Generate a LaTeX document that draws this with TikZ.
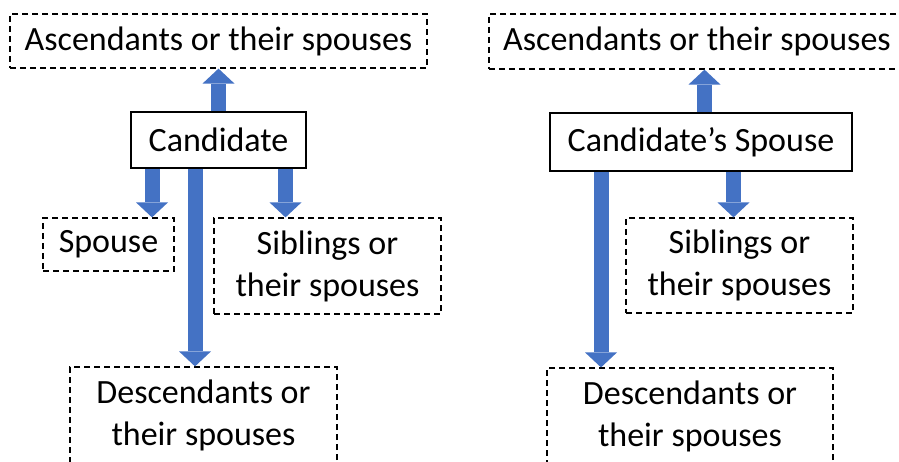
\documentclass[tikz,border=0pt]{standalone}
\usepackage{fontspec}
\setmainfont{Carlito}
\usetikzlibrary{calc,arrows.meta}
\definecolor{arrowblue}{HTML}{4472C4}
\tikzset{
  dbox/.style={draw,dash pattern=on 6pt off 4pt,line width=1.2pt,inner sep=0pt,align=center,
    font=\fontsize{34}{42}\selectfont},
  sbox/.style={draw,line width=2.2pt,inner sep=0pt,align=center,font=\fontsize{34}{42}\selectfont},
  blk/.style={draw=arrowblue,line width=15pt,-{Triangle[length=15pt,width=32pt,line width=0pt]}}
}

\begin{document}
\begin{tikzpicture}[x=1pt,y=-1pt]
\useasboundingbox (0,0) rectangle (899,462);
% candidate
\node[sbox,minimum width=175pt,minimum height=56pt] (cand) at (218.5,140) {Candidate};
\node[dbox,minimum width=417pt,minimum height=54pt] (asc) at (218.5,41) {Ascendants or their spouses};
\node[dbox,minimum width=131pt,minimum height=53pt] (sp) at (108.5,244.5) {Spouse};
\node[dbox,minimum width=227pt,minimum height=96pt] (sib) at (327.5,266) {Siblings or\\their spouses};
\node[dbox,minimum width=267pt,minimum height=96pt] (desc) at (203.5,415) {Descendants or\\their spouses};
\coordinate (c1) at ($(cand.south)+(-66.5,0)$);
\coordinate (c2) at ($(cand.south)+(-23.5,0)$);
\coordinate (c3) at ($(cand.south)+(67,0)$);
\draw[blk] (cand.north) -- (asc.south);
\draw[blk] (c1) -- (c1 |- sp.north);
\draw[blk] (c2) -- (c2 |- desc.north);
\draw[blk] (c3) -- (c3 |- sib.north);
% candidate's spouse
\node[sbox,minimum width=302pt,minimum height=58pt] (scand) at (701,142) {Candidate’s Spouse};
\node[dbox,minimum width=416pt,minimum height=55pt] (sasc) at (697,41.5) {Ascendants or their spouses};
\node[dbox,minimum width=227pt,minimum height=95pt] (ssib) at (739.5,265.5) {Siblings or\\their spouses};
\node[dbox,minimum width=286pt,minimum height=96pt] (sdesc) at (690,416) {Descendants or\\their spouses};
\coordinate (d0) at ($(scand.north)+(3.5,0)$);
\coordinate (d1) at ($(scand.south)+(-100,0)$);
\coordinate (d2) at ($(scand.south)+(32.5,0)$);
\draw[blk] (d0) -- (d0 |- sasc.south);
\draw[blk] (d1) -- (d1 |- sdesc.north);
\draw[blk] (d2) -- (d2 |- ssib.north);
\end{tikzpicture}
\end{document}
